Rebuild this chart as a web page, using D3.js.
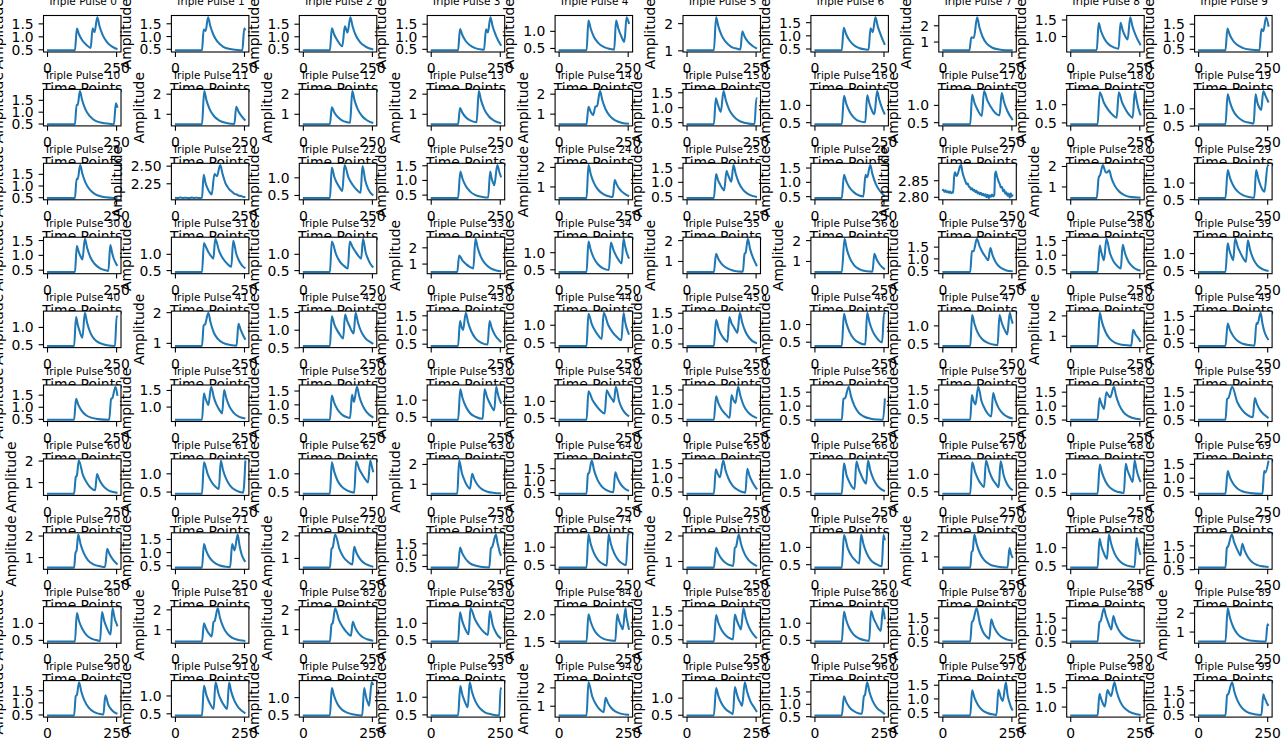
<!DOCTYPE html>
<html><head><meta charset="utf-8">
<script src="https://cdn.jsdelivr.net/npm/d3@7"></script>
<style>body{margin:0;background:#fff}svg{display:block}</style>
</head><body>
<svg id="chart" width="1283" height="746"></svg>
<script>
// ---------- data ----------
const titles = d3.range(100).map(i => "Triple Pulse " + i);
const xTicks = [0, 250];
const timeMax = 255;
const xLabel = "Time Points", yLabel = "Amplitude";

const tA = [0.5, 1.0, 1.5], tB = [0.5, 1.0], tC = [1, 2];
const yTicksRow0 = [tA, tA, tA, tA, tB, tC, tA, tC, [1.0, 1.5], tA];
const yTicksRow1 = [tA, tC, tC, tC, tC, tA, tB, tB, tB, tB];
const yTicksRow2 = [tA, [2.25, 2.5], tB, tA, tC, tA, tA, [2.8, 2.85], tC, tB];
const yTicksRow3 = [tA, tB, tB, tC, tB, tC, tC, tA, tA, tB];
const yTicksRow4 = [tB, tC, tA, tA, tB, tA, tB, tB, tC, tA];
const yTicksRow5 = [tA, [1.0, 1.5], tA, tB, tB, tA, tA, tA, tA, tA];
const yTicksRow6 = [tC, tB, tB, tC, tA, tA, tB, tB, tB, tA];
const yTicksRow7 = [tC, tA, tC, tA, tB, tC, tB, tC, tB, tA];
const yTicksRow8 = [tB, tC, tC, tB, [1.5, 2.0], tA, tB, tA, tA, tC];
const yTicksRow9 = [tA, tB, tB, tB, tC, tB, tA, tA, [1.0, 1.5], tA];

// each series: [time point, amplitude] samples
const pulsesRow0 = [
[[0,.46],[101,.46],[108,1.30],[116,1.07],[128,.84],[143,.67],[158,.55],[165,1.31],[172,1.16],[182,1.74],[190,1.39],[202,1.04],[217,.78],[237,.59],[255,.50]],
[[0,.44],[98,.44],[104,1.26],[111,1.20],[120,1.74],[128,1.39],[140,1.03],[155,.77],[175,.58],[200,.49],[230,.45],[244,.44],[251,1.30],[255,1.22]],
[[0,.44],[98,.44],[105,1.32],[113,1.08],[125,.84],[143,.60],[152,1.40],[162,1.15],[172,1.76],[180,1.40],[192,1.03],[207,.77],[227,.59],[255,.47]],
[[0,.44],[99,.44],[106,1.29],[114,1.06],[126,.82],[141,.65],[161,.53],[186,.47],[193,.46],[200,1.28],[207,1.15],[216,1.76],[224,1.40],[236,1.03],[255,.62]],
[[0,.43],[101,.43],[108,1.30],[116,1.07],[128,.82],[143,.65],[163,.53],[188,.47],[201,.45],[208,1.30],[216,1.07],[228,.82],[238,.68],[246,1.40],[255,1.20]],
[[0,1.0],[99,1.0],[107,2.22],[115,1.89],[127,1.55],[142,1.31],[162,1.13],[187,1.05],[195,1.03],[202,1.70],[210,1.51],[222,1.32],[237,1.18],[255,1.06]],
[[0,.43],[99,.43],[106,1.29],[114,1.06],[126,.82],[141,.64],[161,.52],[186,.46],[196,.45],[203,1.27],[211,1.12],[221,1.69],[229,1.35],[241,.99],[255,.64]],
[[0,.46],[98,.46],[105,1.26],[114,1.22],[126,2.5],[134,1.89],[146,1.28],[161,.87],[181,.62],[206,.51],[230,.47],[255,.46]],
[[0,.57],[96,.57],[103,1.39],[111,1.16],[123,.93],[138,.76],[158,.66],[175,.62],[182,1.40],[190,1.17],[200,.98],[208,.90],[217,1.57],[225,1.30],[237,1.02],[255,.72]],
[[0,.44],[99,.44],[106,1.31],[114,1.07],[126,.83],[141,.66],[161,.54],[186,.47],[222,.44],[229,1.29],[236,1.20],[246,1.76],[255,1.38]]
];
const pulsesRow1 = [
[[0,.47],[101,.47],[107,1.29],[111,1.28],[119,1.87],[127,1.49],[139,1.10],[154,.82],[174,.62],[199,.53],[225,.49],[242,.47],[249,1.35],[255,1.17]],
[[0,.48],[98,.48],[106,2.13],[114,1.68],[126,1.22],[141,.89],[161,.66],[186,.54],[215,.49],[222,1.35],[230,1.11],[242,.87],[255,.66]],
[[0,.48],[98,.48],[105,1.32],[113,1.09],[125,.86],[140,.69],[160,.58],[171,.56],[179,2.13],[187,1.68],[199,1.22],[214,.89],[234,.66],[255,.54]],
[[0,.48],[99,.48],[106,1.29],[114,1.07],[126,.84],[141,.68],[166,.58],[174,2.13],[182,1.68],[194,1.22],[209,.89],[229,.66],[255,.53]],
[[0,.47],[101,.47],[108,1.35],[116,1.10],[125,.92],[133,1.35],[139,1.38],[150,2.13],[158,1.68],[170,1.22],[185,.89],[205,.66],[230,.53],[255,.49]],
[[0,.43],[99,.43],[106,1.30],[114,1.07],[124,.84],[134,1.54],[142,1.24],[154,.93],[169,.71],[189,.55],[214,.47],[246,.43],[253,1.30],[255,1.28]],
[[0,.44],[99,.44],[107,1.26],[115,1.04],[127,.81],[142,.64],[162,.53],[184,.50],[191,1.28],[199,1.04],[208,.84],[217,.73],[227,1.40],[235,1.14],[247,.86],[255,.72]],
[[0,.44],[101,.44],[108,1.29],[116,1.07],[128,.85],[143,.68],[151,1.40],[163,1.13],[176,.94],[188,.80],[207,.70],[215,1.34],[223,1.09],[235,.83],[255,.56]],
[[0,.45],[99,.45],[107,1.33],[122,1.04],[137,.85],[153,.71],[168,.63],[176,1.33],[188,1.04],[201,.85],[213,.71],[226,.63],[234,1.36],[240,1.12],[247,.88],[255,.69]],
[[0,.54],[99,.54],[107,1.41],[115,1.18],[127,.93],[142,.76],[162,.64],[187,.58],[201,.56],[208,1.41],[214,1.18],[221,1.03],[228,.95],[236,1.50],[244,1.36],[255,1.17]]
];
const pulsesRow2 = [
[[0,.46],[101,.46],[107,1.29],[111,1.27],[120,1.88],[128,1.50],[140,1.10],[155,.82],[175,.62],[200,.52],[230,.48],[255,.47]],
[[0,2.045],[10,2.040],[20,2.047],[30,2.041],[40,2.045],[50,2.039],[60,2.046],[70,2.041],[80,2.045],[90,2.040],[98,2.043],[104,2.37],[111,2.25],[119,2.17],[126,2.12],[133,2.09],[143,2.38],[152,2.35],[164,2.51],[172,2.39],[182,2.26],[192,2.19],[200,2.15],[208,2.125],[216,2.10],[224,2.09],[232,2.072],[240,2.07],[248,2.055],[255,2.058]],
[[0,.41],[98,.41],[105,1.28],[114,1.01],[124,.83],[134,.70],[143,.61],[151,1.35],[165,1.00],[180,.79],[195,.65],[209,.56],[216,1.32],[226,.91],[236,.68],[245,.56],[255,.49]],
[[0,.38],[99,.38],[107,1.29],[115,1.04],[127,.79],[142,.61],[162,.48],[187,.42],[208,.40],[215,1.29],[220,1.07],[225,.92],[230,.82],[241,1.51],[248,1.28],[255,1.09]],
[[0,.40],[101,.40],[108,2.10],[116,1.64],[128,1.17],[143,.83],[163,.59],[188,.47],[196,.46],[203,1.33],[211,1.08],[223,.82],[238,.63],[255,.50]],
[[0,.43],[99,.43],[107,1.27],[114,1.06],[122,.90],[129,.78],[136,.70],[145,1.39],[149,1.27],[154,1.16],[162,1.00],[170,1.59],[178,1.28],[190,.95],[205,.72],[225,.56],[255,.47]],
[[0,.43],[99,.43],[107,1.25],[115,1.03],[127,.80],[142,.64],[162,.52],[177,.49],[185,1.25],[191,1.16],[202,1.59],[210,1.27],[222,.93],[237,.68],[255,.50]],
[[0,2.818],[4,2.821],[8,2.815],[12,2.819],[16,2.814],[20,2.817],[24,2.812],[28,2.816],[32,2.811],[36,2.814],[39,2.812],[43,2.862],[46,2.874],[49,2.866],[52,2.863],[56,2.870],[60,2.880],[64,2.892],[68,2.896],[72,2.878],[76,2.864],[80,2.855],[84,2.846],[88,2.838],[92,2.840],[96,2.831],[100,2.829],[104,2.822],[108,2.826],[112,2.818],[116,2.821],[120,2.814],[124,2.818],[128,2.810],[132,2.814],[136,2.807],[140,2.812],[144,2.805],[148,2.809],[152,2.803],[156,2.808],[160,2.799],[164,2.806],[168,2.796],[172,2.805],[176,2.800],[180,2.807],[184,2.801],[188,2.805],[191,2.868],[194,2.876],[197,2.864],[200,2.856],[204,2.846],[208,2.838],[212,2.828],[216,2.830],[220,2.817],[224,2.821],[228,2.809],[232,2.814],[236,2.803],[240,2.810],[244,2.797],[248,2.811],[251,2.801],[255,2.807]],
[[0,.43],[96,.43],[103,1.44],[108,1.55],[118,2.05],[128,1.70],[133,1.68],[141,1.79],[149,1.42],[161,1.04],[176,.77],[196,.58],[221,.48],[255,.45]],
[[0,.53],[99,.53],[107,1.38],[115,1.15],[127,.91],[142,.74],[162,.62],[187,.56],[203,.54],[210,1.38],[218,1.11],[225,.93],[232,.80],[240,.72],[252,1.53],[255,1.50]]
];
const pulsesRow3 = [
[[0,.42],[101,.42],[108,1.31],[113,1.15],[118,1.02],[123,.92],[128,.84],[137,1.54],[145,1.24],[157,.92],[172,.70],[192,.54],[217,.47],[222,.46],[229,1.33],[236,1.05],[242,.86],[249,.72],[255,.63]],
[[0,.44],[98,.44],[105,1.33],[114,1.18],[122,1.04],[131,.93],[139,.85],[146,1.46],[160,1.08],[175,.84],[190,.69],[204,.60],[211,1.40],[222,1.00],[233,.77],[244,.63],[255,.55]],
[[0,.44],[98,.44],[105,1.38],[120,.99],[134,.76],[149,.63],[163,.55],[170,1.38],[180,1.21],[191,1.06],[201,.94],[211,.85],[218,1.46],[227,1.06],[237,.82],[246,.67],[255,.58]],
[[0,.48],[96,.48],[103,1.50],[116,1.16],[129,.95],[141,.80],[154,.70],[162,2.52],[170,1.97],[182,1.40],[197,.99],[217,.70],[242,.56],[255,.53]],
[[0,.42],[101,.42],[108,1.31],[116,1.07],[128,.82],[143,.64],[163,.52],[182,.48],[189,1.28],[199,1.05],[209,.88],[218,.76],[228,.67],[235,1.39],[240,1.20],[245,1.03],[250,.91],[255,.81]],
[[0,.47],[99,.47],[107,1.34],[115,1.11],[127,.86],[142,.69],[162,.57],[187,.50],[204,.49],[210,1.34],[214,1.40],[222,2.06],[230,1.58],[242,1.11],[255,.75]],
[[0,.47],[99,.47],[109,2.06],[117,1.58],[129,1.11],[144,.79],[164,.60],[189,.51],[210,.49],[217,1.34],[225,1.08],[237,.82],[255,.60]],
[[0,.42],[101,.42],[107,1.31],[113,1.30],[125,1.83],[135,1.51],[146,1.25],[156,1.07],[166,.92],[174,1.44],[182,1.13],[194,.83],[209,.62],[229,.50],[255,.45]],
[[0,.41],[99,.41],[107,1.31],[111,1.14],[115,1.00],[118,.90],[122,.81],[131,1.54],[144,1.05],[157,.77],[170,.62],[183,.53],[190,1.34],[198,1.06],[210,.78],[225,.60],[245,.48],[255,.46]],
[[0,.44],[99,.44],[107,1.29],[112,1.12],[117,.98],[122,.87],[127,.79],[134,1.42],[144,1.17],[154,.99],[163,.85],[173,.74],[180,1.38],[188,1.10],[200,.82],[215,.63],[235,.52],[255,.47]]
];
const pulsesRow4 = [
[[0,.45],[98,.45],[105,1.29],[111,1.07],[117,.90],[122,.78],[128,.69],[137,1.41],[145,1.12],[157,.83],[172,.64],[192,.53],[217,.47],[246,.45],[252,1.31],[255,1.28]],
[[0,.90],[98,.90],[104,1.57],[109,1.60],[121,1.98],[129,1.66],[141,1.33],[156,1.12],[176,.99],[201,.93],[223,.91],[230,1.62],[238,1.42],[250,1.19],[255,1.10]],
[[0,.54],[98,.54],[105,1.38],[115,1.13],[126,.96],[136,.84],[146,.75],[153,1.43],[161,1.24],[169,1.10],[176,.98],[184,.89],[191,1.48],[199,1.22],[211,.95],[226,.76],[246,.64],[255,.60]],
[[0,.42],[99,.42],[106,1.30],[112,1.08],[117,.98],[127,1.59],[135,1.26],[147,.93],[162,.69],[182,.54],[206,.47],[213,1.30],[221,1.05],[233,.80],[248,.62],[255,.55]],
[[0,.40],[101,.40],[108,1.31],[120,1.02],[132,.83],[144,.69],[156,.60],[163,1.34],[179,1.00],[195,.79],[211,.65],[227,.56],[235,1.33],[240,1.11],[245,.94],[250,.82],[255,.72]],
[[0,.42],[99,.42],[107,1.27],[117,.95],[128,.75],[138,.63],[148,.55],[155,1.36],[162,1.18],[170,1.05],[177,.94],[184,.84],[193,1.50],[201,1.20],[213,.89],[228,.67],[248,.53],[255,.51]],
[[0,.38],[99,.38],[107,1.29],[115,1.04],[127,.78],[142,.59],[162,.47],[184,.42],[191,1.32],[199,1.06],[211,.79],[226,.60],[245,.48],[252,1.32],[255,1.28]],
[[0,.43],[101,.43],[108,1.29],[116,1.05],[128,.80],[143,.63],[163,.52],[188,.46],[200,.45],[207,1.29],[214,1.10],[221,.95],[228,.84],[235,.75],[244,1.35],[250,1.17],[255,1.05]],
[[0,.50],[99,.50],[107,2.13],[115,1.67],[127,1.21],[142,.87],[162,.66],[187,.56],[214,.52],[221,.51],[228,1.30],[236,1.08],[248,.85],[255,.70]],
[[0,.38],[99,.38],[107,1.22],[115,.98],[127,.75],[142,.57],[162,.46],[187,.41],[204,.39],[211,1.24],[215,1.20],[226,1.62],[233,1.21],[240,.91],[248,.72],[255,.60]]
];
const pulsesRow5 = [
[[0,.46],[98,.46],[105,1.33],[113,1.09],[125,.84],[140,.66],[160,.55],[185,.49],[225,.46],[232,1.33],[236,1.35],[248,1.83],[255,1.45]],
[[0,.60],[98,.60],[105,1.40],[109,1.29],[113,1.19],[117,1.11],[121,1.05],[131,1.60],[141,1.27],[151,1.05],[161,.90],[171,.80],[178,1.50],[186,1.25],[198,.99],[213,.81],[233,.69],[255,.64]],
[[0,.44],[98,.44],[105,1.32],[113,1.07],[125,.82],[140,.64],[160,.53],[171,.51],[178,1.35],[185,1.09],[196,1.64],[204,1.30],[216,.96],[231,.72],[255,.52]],
[[0,.41],[99,.41],[107,1.30],[115,1.05],[127,.80],[142,.61],[162,.50],[188,.44],[195,1.30],[204,1.07],[213,.91],[221,.78],[230,.69],[237,1.38],[242,1.21],[246,1.08],[251,.97],[255,.88]],
[[0,.44],[101,.44],[108,1.28],[123,1.02],[138,.84],[152,.71],[167,.63],[174,1.31],[181,1.21],[187,1.12],[194,1.04],[200,.97],[207,1.42],[219,.99],[231,.75],[243,.62],[255,.54]],
[[0,.44],[99,.44],[107,1.26],[115,1.03],[127,.80],[142,.63],[156,.51],[163,1.31],[170,1.13],[177,1.03],[187,1.60],[195,1.28],[207,.94],[222,.71],[242,.56],[255,.50]],
[[0,.49],[99,.49],[105,1.24],[111,1.27],[124,1.68],[132,1.35],[144,1.01],[159,.76],[179,.61],[204,.53],[230,.50],[248,.49],[255,1.26]],
[[0,.44],[101,.44],[107,1.31],[113,1.10],[120,.98],[130,1.60],[142,1.09],[154,.82],[165,.65],[177,.56],[184,1.38],[192,1.12],[204,.85],[219,.66],[239,.53],[255,.49]],
[[0,.49],[99,.49],[106,1.27],[110,1.15],[114,1.04],[118,.95],[122,.88],[131,1.48],[138,1.37],[145,1.30],[158,1.68],[166,1.35],[178,1.01],[193,.76],[213,.61],[238,.53],[255,.51]],
[[0,.49],[99,.49],[105,1.24],[110,1.28],[123,1.68],[142,1.12],[161,.82],[179,.66],[198,.58],[205,1.27],[213,1.05],[225,.83],[240,.67],[255,.55]]
];
const pulsesRow6 = [
[[0,.46],[98,.46],[104,1.23],[108,1.30],[115,2.00],[130,1.32],[145,.95],[159,.73],[174,.62],[181,1.38],[189,1.12],[201,.86],[216,.67],[236,.55],[255,.50]],
[[0,.44],[98,.44],[105,1.30],[119,.97],[132,.77],[146,.64],[159,.57],[166,1.35],[174,1.09],[186,.84],[201,.65],[221,.53],[247,.47],[255,1.35]],
[[0,.44],[98,.44],[105,1.30],[113,1.06],[125,.81],[140,.64],[160,.53],[186,.47],[193,1.33],[204,1.12],[215,.97],[225,.85],[236,.75],[244,1.35],[250,1.18],[255,1.03]],
[[0,.50],[96,.50],[103,2.17],[113,1.53],[123,1.15],[132,.90],[142,.75],[150,1.50],[158,1.22],[170,.94],[185,.73],[205,.60],[230,.54],[255,.52]],
[[0,.43],[101,.43],[106,1.26],[110,1.30],[120,1.82],[128,1.43],[140,1.03],[155,.75],[175,.57],[198,.49],[205,1.33],[213,1.08],[225,.82],[240,.64],[255,.55]],
[[0,.42],[99,.42],[106,1.28],[113,1.12],[121,1.00],[133,1.59],[141,1.26],[153,.93],[168,.69],[188,.54],[213,.46],[220,1.30],[228,1.05],[240,.80],[255,.57]],
[[0,.43],[99,.43],[107,1.30],[116,.97],[126,.77],[135,.64],[145,.56],[152,1.35],[161,1.12],[170,.95],[178,.81],[187,.72],[194,1.38],[202,1.11],[214,.84],[229,.65],[255,.50]],
[[0,.43],[101,.43],[108,1.33],[119,1.04],[130,.84],[140,.71],[151,.62],[158,1.38],[170,1.07],[181,.86],[193,.72],[204,.62],[211,1.36],[222,.96],[233,.73],[244,.60],[255,.53]],
[[0,.45],[99,.45],[107,1.25],[115,1.03],[127,.80],[142,.63],[162,.53],[187,.48],[194,.47],[201,1.27],[207,1.10],[214,.96],[220,.85],[226,.77],[233,1.36],[239,1.15],[244,.99],[250,.86],[255,.77]],
[[0,.42],[99,.42],[107,1.24],[115,1.01],[127,.78],[142,.61],[162,.50],[187,.45],[233,.42],[239,1.25],[243,1.18],[255,1.62]]
];
const pulsesRow7 = [
[[0,.51],[98,.51],[103,1.20],[107,1.30],[113,2.05],[121,1.62],[133,1.18],[148,.86],[168,.66],[193,.57],[210,.54],[218,1.38],[226,1.14],[238,.89],[255,.65]],
[[0,.41],[98,.41],[105,1.31],[113,1.06],[125,.80],[140,.62],[160,.50],[185,.44],[200,.43],[207,1.31],[216,1.06],[227,1.67],[234,1.24],[241,.93],[248,.75],[255,.63]],
[[0,.57],[98,.57],[104,1.41],[108,1.45],[117,2.04],[133,1.38],[148,1.02],[164,.82],[179,.71],[186,1.49],[194,1.23],[206,.97],[221,.78],[241,.66],[255,.61]],
[[0,.43],[99,.43],[106,1.32],[114,1.07],[126,.82],[141,.63],[161,.52],[186,.46],[212,.44],[218,1.29],[222,1.33],[236,1.89],[241,1.56],[246,1.30],[250,1.10],[255,.95]],
[[0,.42],[101,.42],[108,1.34],[116,1.08],[128,.82],[143,.63],[163,.51],[174,.48],[181,1.34],[189,1.08],[201,.82],[216,.63],[236,.51],[244,.49],[251,1.34],[255,1.32]],
[[0,.74],[99,.74],[107,1.52],[115,1.30],[127,1.08],[142,.92],[162,.82],[169,.81],[175,1.52],[179,1.55],[189,2.04],[197,1.68],[209,1.31],[224,1.04],[244,.87],[255,.80]],
[[0,.40],[99,.40],[107,1.34],[121,.95],[135,.73],[148,.61],[162,.52],[169,1.36],[177,1.09],[189,.82],[204,.62],[224,.50],[244,.44],[250,1.34],[255,1.19]],
[[0,.46],[101,.46],[106,1.21],[110,1.28],[116,2.05],[124,1.60],[136,1.15],[151,.83],[171,.62],[196,.52],[236,.47],[243,1.40],[249,1.10],[255,.92]],
[[0,.44],[99,.44],[106,1.23],[113,1.02],[120,.87],[126,.76],[133,.68],[140,1.35],[148,1.10],[160,.84],[175,.65],[195,.53],[220,.47],[233,.46],[240,1.25],[244,1.10],[248,.96],[251,.87],[255,.79]],
[[0,.565],[99,.565],[104,1.40],[108,1.45],[122,1.96],[130,1.65],[138,1.42],[145,1.24],[153,1.08],[160,1.57],[168,1.29],[180,1.01],[195,.80],[215,.67],[240,.61],[255,.59]]
];
const pulsesRow8 = [
[[0,.45],[101,.45],[108,1.29],[116,1.05],[128,.82],[143,.64],[163,.53],[185,.48],[192,.47],[199,1.32],[207,1.06],[215,.88],[222,.75],[230,.66],[237,1.43],[242,1.25],[246,1.10],[251,.99],[255,.90]],
[[0,.38],[98,.38],[105,1.30],[112,1.06],[119,.86],[126,.73],[133,.63],[140,1.37],[144,1.42],[155,2.05],[163,1.58],[175,1.11],[190,.76],[210,.55],[235,.44],[255,.41]],
[[0,.38],[98,.38],[104,1.25],[108,1.30],[117,2.05],[131,1.46],[146,1.08],[160,.83],[174,.67],[181,1.37],[189,1.09],[201,.81],[216,.61],[236,.48],[255,.42]],
[[0,.43],[99,.43],[106,1.32],[114,1.06],[122,.87],[129,.74],[137,.65],[144,1.44],[160,1.11],[176,.88],[191,.73],[207,.63],[214,1.36],[224,.95],[235,.72],[245,.59],[255,.52]],
[[0,1.49],[101,1.49],[108,2.00],[116,1.86],[128,1.71],[143,1.61],[163,1.54],[188,1.51],[205,1.50],[212,2.00],[217,1.91],[222,1.83],[227,1.77],[232,1.72],[242,2.11],[245,1.97],[249,1.86],[252,1.78],[255,1.71]],
[[0,.42],[99,.42],[107,1.34],[115,1.08],[127,.82],[142,.63],[162,.51],[168,.49],[175,1.36],[181,1.19],[186,1.05],[192,.93],[197,.84],[206,1.57],[214,1.25],[226,.92],[241,.68],[255,.53]],
[[0,.45],[99,.45],[107,1.32],[115,1.08],[127,.83],[142,.65],[162,.54],[187,.48],[198,.47],[205,1.34],[214,1.13],[223,.98],[231,.85],[240,.76],[248,1.42],[255,1.10]],
[[0,.50],[101,.50],[107,1.32],[111,1.36],[124,1.89],[136,1.26],[147,.91],[159,.72],[170,.62],[177,1.43],[185,1.17],[197,.90],[212,.71],[232,.59],[255,.54]],
[[0,.50],[99,.50],[106,1.32],[110,1.36],[122,1.89],[129,1.58],[136,1.35],[142,1.16],[149,1.01],[156,1.57],[164,1.27],[176,.97],[191,.75],[211,.61],[236,.54],[255,.52]],
[[0,.47],[99,.47],[107,2.23],[115,1.74],[127,1.24],[142,.88],[162,.65],[187,.53],[215,.49],[245,.47],[251,1.39],[255,1.30]]
];
const pulsesRow9 = [
[[0,.46],[98,.46],[104,1.26],[108,1.30],[116,1.83],[124,1.45],[136,1.06],[151,.78],[171,.60],[196,.51],[204,.50],[211,1.29],[222,.90],[233,.70],[244,.59],[255,.53]],
[[0,.44],[98,.44],[105,1.27],[114,1.01],[123,.83],[131,.71],[140,.62],[147,1.37],[158,1.04],[168,.85],[179,.71],[189,.62],[196,1.36],[204,1.10],[216,.84],[231,.65],[255,.50]],
[[0,.47],[98,.47],[105,1.26],[113,1.04],[125,.81],[140,.65],[160,.55],[185,.50],[215,.47],[222,1.26],[227,1.08],[231,.94],[236,.83],[240,.75],[249,1.43],[255,1.35]],
[[0,.47],[99,.47],[107,1.30],[114,1.07],[121,.91],[127,.79],[134,.70],[141,1.41],[149,1.15],[161,.88],[176,.69],[196,.56],[221,.50],[248,.47],[253,1.25],[255,1.21]],
[[0,.47],[101,.47],[108,2.28],[122,1.49],[136,1.05],[149,.79],[163,.65],[170,1.44],[178,1.17],[190,.89],[205,.69],[225,.57],[255,.50]],
[[0,.48],[99,.48],[107,1.28],[115,1.06],[127,.83],[142,.66],[162,.55],[168,.52],[175,1.31],[182,1.11],[188,.96],[195,.85],[201,.76],[211,1.45],[219,1.18],[231,.90],[246,.70],[255,.58]],
[[0,.53],[99,.53],[107,1.30],[115,1.08],[127,.86],[142,.71],[162,.61],[172,.60],[179,1.30],[183,1.36],[191,1.87],[199,1.49],[211,1.11],[226,.84],[246,.66],[255,.58]],
[[0,.38],[101,.38],[108,1.30],[116,1.04],[128,.78],[143,.59],[163,.47],[188,.41],[196,.40],[203,1.32],[211,1.06],[219,.91],[230,1.59],[236,1.13],[243,.85],[249,.67],[255,.56]],
[[0,.77],[99,.77],[106,1.33],[111,1.22],[116,1.12],[120,1.05],[125,1.00],[135,1.43],[142,1.33],[148,1.27],[160,1.63],[168,1.39],[180,1.14],[195,.97],[215,.86],[240,.80],[255,.78]],
[[0,.46],[99,.46],[105,1.30],[109,1.34],[123,1.83],[131,1.45],[143,1.06],[158,.78],[178,.60],[203,.51],[229,.48],[236,1.33],[241,1.17],[246,1.05],[250,.94],[255,.86]]
];

const allPulses = [].concat(pulsesRow0, pulsesRow1, pulsesRow2, pulsesRow3, pulsesRow4,
                            pulsesRow5, pulsesRow6, pulsesRow7, pulsesRow8, pulsesRow9);
const allYTicks = [].concat(yTicksRow0, yTicksRow1, yTicksRow2, yTicksRow3, yTicksRow4,
                            yTicksRow5, yTicksRow6, yTicksRow7, yTicksRow8, yTicksRow9);

// ---------- layout ----------
const W = 1283, H = 746;
const LEFT0 = 43.5, COLP = 127.9, AW = 77.5;
const TOP0 = 15.5, ROWP = 73.9, AH = 36.5;
const FONT = "DejaVu Sans, Verdana, sans-serif";
const FS = 13.9, TFS = 10.5;
const TICK = 4.9, PAD = 4.9;
const LINE = "#1f77b4";

const decimals = v => { const s = String(v); const k = s.indexOf("."); return k < 0 ? 0 : s.length - k - 1; };

const svg = d3.select("#chart");
svg.append("rect").attr("width", W).attr("height", H).attr("fill", "#fff");

allPulses.forEach((pts, i) => {
  const r = Math.floor(i / 10), c = i % 10;
  const x0 = LEFT0 + c * COLP, y0 = TOP0 + r * ROWP;
  const g = svg.append("g").attr("transform", `translate(${x0},${y0})`);

  const xs = d3.scaleLinear().domain([-0.05 * timeMax, 1.05 * timeMax]).range([0, AW]);
  const ext = d3.extent(pts, d => d[1]);
  const pad = (ext[1] - ext[0]) * 0.05;
  const ys = d3.scaleLinear().domain([ext[0] - pad, ext[1] + pad]).range([AH, 0]);

  // axes background (covers spill-over of earlier subplots, like matplotlib)
  g.append("rect").attr("width", AW).attr("height", AH).attr("fill", "#fff");

  g.append("path").datum(pts)
    .attr("d", d3.line().x(d => xs(d[0])).y(d => ys(d[1])).curve(d3.curveMonotoneX))
    .attr("fill", "none").attr("stroke", LINE).attr("stroke-width", 2.05)
    .attr("stroke-linejoin", "round");

  g.append("rect").attr("width", AW).attr("height", AH)
    .attr("fill", "none").attr("stroke", "#000").attr("stroke-width", 1.1);

  // x axis
  const xa = g.append("g").attr("transform", `translate(0,${AH})`)
    .call(d3.axisBottom(xs).tickValues(xTicks).tickSize(TICK).tickPadding(PAD).tickFormat(d3.format("d")));
  xa.select(".domain").remove();
  xa.attr("font-size", FS).attr("font-family", FONT);
  xa.selectAll("line").attr("stroke", "#000").attr("stroke-width", 1.1);
  xa.selectAll("text").attr("y", 21.2).attr("dy", null).attr("fill", "#000");

  // y axis
  const yt = allYTicks[i];
  const dom = ys.domain();
  const vis = yt.filter(v => v >= dom[0] - 1e-9 && v <= dom[1] + 1e-9);
  const prec = d3.max(yt, decimals);
  const ya = g.append("g")
    .call(d3.axisLeft(ys).tickValues(vis).tickSize(TICK).tickPadding(PAD).tickFormat(d3.format(`.${prec}f`)));
  ya.select(".domain").remove();
  ya.attr("font-size", FS).attr("font-family", FONT);
  ya.selectAll("line").attr("stroke", "#000").attr("stroke-width", 1.1);
  ya.selectAll("text").attr("dy", "0.36em").attr("fill", "#000");
  const maxW = d3.max(ya.selectAll("text").nodes(), n => n.getComputedTextLength()) || 0;

  // axis labels
  const lx = -(TICK + PAD) - maxW - 5.6 - 3.3;
  g.append("text").attr("transform", `translate(${lx},${AH / 2}) rotate(-90)`)
    .attr("text-anchor", "middle").attr("font-family", FONT).attr("font-size", FS)
    .attr("fill", "#000").text(yLabel);
  g.append("text").attr("x", AW / 2).attr("y", AH + 41)
    .attr("text-anchor", "middle").attr("font-family", FONT).attr("font-size", FS)
    .attr("fill", "#000").text(xLabel);

  // title
  g.append("text").attr("x", AW / 2).attr("y", -10.3)
    .attr("text-anchor", "middle").attr("font-family", FONT).attr("font-size", TFS)
    .attr("fill", "#000").text(titles[i]);
});
</script>
</body></html>
